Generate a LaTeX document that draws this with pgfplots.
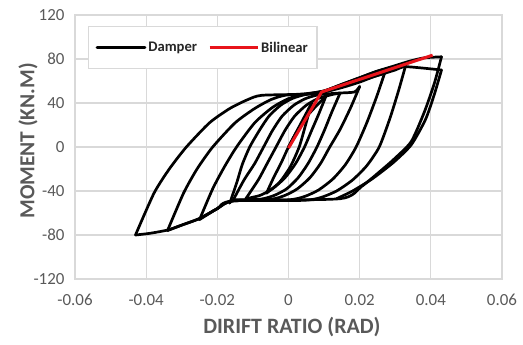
\documentclass[border=0pt]{standalone}
\usepackage{pgfplots}
\pgfplotsset{compat=1.18}
\usepackage{fontspec}
\setmainfont{Carlito}
\definecolor{gridgray}{HTML}{D9D9D9}
\definecolor{txtgray}{HTML}{595959}
\definecolor{redline}{HTML}{E8141B}
\begin{document}
\begin{tikzpicture}
\begin{axis}[
  scale only axis, width=427bp, height=264bp,
  xmin=-0.06, xmax=0.06, ymin=-120, ymax=120,
  xtick={-0.06,-0.04,-0.02,0,0.02,0.04,0.06},
  xticklabels={-0.06,-0.04,-0.02,0,0.02,0.04,0.06},
  ytick={-120,-80,-40,0,40,80,120},
  yticklabels={-120,-80,-40,0,40,80,120},
  scaled x ticks=false, scaled y ticks=false,
  grid=major, grid style={gridgray, line width=1.3bp},
  axis line style={gridgray, line width=1.3bp},
  major tick length=0pt,
  tick label style={font=\fontsize{17}{20}\selectfont, text=txtgray},
  xticklabel style={yshift=-12bp},
  yticklabel style={xshift=-7bp},
  xlabel={DIRIFT RATIO (RAD)},
  ylabel={MOMENT (KN.M)},
  xlabel style={at={(axis description cs:0.508,-0.182)}, anchor=center, font=\bfseries\fontsize{22}{25}\selectfont, text=txtgray},
  ylabel style={at={(axis description cs:-0.110,0.523)}, anchor=center, font=\bfseries\fontsize{21.5}{24}\selectfont, text=txtgray},
  legend columns=2,
  legend image code/.code={\draw[#1] (0bp,0bp) -- (48bp,0bp);},
  legend style={at={(axis description cs:0.0305,0.958)}, anchor=north west, draw=gridgray, line width=1.3bp,
    font=\bfseries\fontsize{14.7}{17}\selectfont, text=black!85, inner xsep=7bp, inner ysep=13bp,
    nodes={inner xsep=2bp},
    /tikz/every even column/.append style={column sep=9bp}},
  damp/.style={black, line width=2.7bp, line join=round, line cap=round, smooth, tension=0.4},
]
% initial loading
\addplot[damp] coordinates {(0,0) (0.0065,40)};
\addlegendentry{Damper}
% U1
\addplot[damp, forget plot] coordinates {(0.0065,40) (0.0048,20) (0.003,0) (0.0005,-18) (-0.0025,-32) (-0.0062,-42)};
% L1
\addplot[damp, forget plot] coordinates {(-0.0062,-42) (-0.0042,-28) (-0.002,-14) (0,0) (0.0025,15) (0.0052,28) (0.008,38) (0.0105,46)};
% U2
\addplot[damp, forget plot] coordinates {(0.0105,46) (0.0085,30) (0.0065,15) (0.0045,0) (0.002,-15) (-0.001,-28) (-0.0045,-38) (-0.008,-44) (-0.012,-47)};
% L2
\addplot[damp, forget plot] coordinates {(-0.012,-47) (-0.0085,-30) (-0.006,-15) (-0.0035,0) (-0.001,15) (0.0017,28) (0.005,38) (0.0083,44) (0.012,47.5) (0.0145,49)};
% U3
\addplot[damp, forget plot] coordinates {(0.0145,49) (0.0122,32) (0.0102,16) (0.008,0) (0.0055,-15) (0.0027,-28) (-0.0005,-38) (-0.004,-44) (-0.008,-47.5) (-0.0155,-48)};
% L3
\addplot[damp, forget plot] coordinates {(-0.0155,-48) (-0.0125,-30) (-0.0095,-15) (-0.007,0) (-0.0045,15) (-0.0018,28) (0.0015,38) (0.0048,44) (0.0085,47.5) (0.014,49) (0.0185,50) (0.020,55)};
% U4
\addplot[damp, forget plot] coordinates {(0.020,55) (0.0175,36) (0.0145,16) (0.0116,0) (0.009,-15) (0.006,-28) (0.0025,-38) (-0.001,-44) (-0.005,-47.5) (-0.0155,-48.5) (-0.0165,-51)};
% L4
\addplot[damp, forget plot] coordinates {(-0.0165,-51) (-0.0145,-32) (-0.013,-16) (-0.0109,0) (-0.0082,15) (-0.0055,28) (-0.0022,38) (0.001,44) (0.0045,47.5) (0.01,50) (0.015,54) (0.02,59) (0.024,64) (0.027,67)};
% U5
\addplot[damp, forget plot] coordinates {(0.027,67) (0.0248,46) (0.022,22) (0.019,0) (0.016,-16) (0.0125,-29) (0.0085,-39) (0.0045,-45) (0,-48) (-0.0155,-49) (-0.02,-56) (-0.025,-66)};
% L5
\addplot[damp, forget plot] coordinates {(-0.025,-66) (-0.0213,-38) (-0.018,-18) (-0.0146,0) (-0.0095,22) (-0.0045,36) (0,44) (0.004,47.5) (0.01,51) (0.015,57) (0.02,63) (0.025,69) (0.03,73) (0.033,75)};
% U6
\addplot[damp, forget plot] coordinates {(0.033,75) (0.031,52) (0.0285,26) (0.0255,0) (0.022,-17) (0.018,-30) (0.0135,-40) (0.009,-46) (0.004,-48.5) (-0.0155,-49) (-0.02,-56) (-0.025,-65) (-0.03,-71) (-0.034,-76)};
% L6
\addplot[damp, forget plot] coordinates {(-0.034,-76) (-0.0295,-42) (-0.0257,-20) (-0.0213,0) (-0.015,22) (-0.0095,35) (-0.005,43) (-0.001,47) (0.005,48.5) (0.01,51) (0.015,57) (0.02,63) (0.025,69) (0.03,74) (0.034,78) (0.038,81) (0.043,82)};
% U7
\addplot[damp, forget plot] coordinates {(0.043,82) (0.041,58) (0.0382,32) (0.0345,5) (0.030,-10) (0.0265,-20) (0.0205,-36) (0.0145,-47) (-0.0155,-49) (-0.02,-56) (-0.025,-65) (-0.03,-71) (-0.034,-75.5) (-0.039,-78.5) (-0.043,-80)};
% L7
\addplot[damp, forget plot] coordinates {(-0.043,-80) (-0.0378,-42) (-0.0335,-20) (-0.0287,0) (-0.0222,22) (-0.0165,35) (-0.0115,43) (-0.0075,47) (0.005,48) (0.01,50) (0.015,55) (0.02,60) (0.025,65) (0.03,70) (0.033,73) (0.043,70)};
% U8
\addplot[damp, forget plot] coordinates {(0.043,70) (0.041,48) (0.0385,25) (0.0345,2) (0.0295,-14) (0.0235,-29) (0.018,-40) (0.0135,-47)};
\addplot[redline, line width=3bp, line join=round] coordinates {(0,-1) (0.0093,50) (0.0405,83.5)};
\addlegendentry{Bilinear}
\coordinate (ll) at (rel axis cs:0,0);
\end{axis}
\pgfresetboundingbox
\path (ll) ++(-75bp,-66bp) rectangle ++(523bp,345bp);
\end{tikzpicture}
\end{document}
